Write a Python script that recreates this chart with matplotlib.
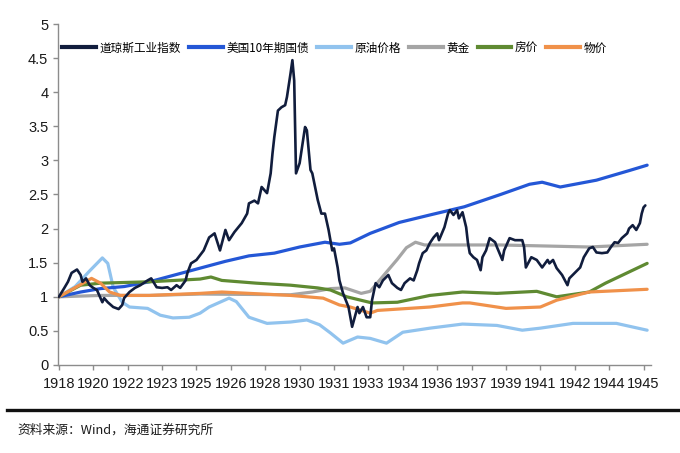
import matplotlib
matplotlib.use("Agg")
import matplotlib.pyplot as plt
from matplotlib.lines import Line2D
from matplotlib.ticker import FuncFormatter

# x 轴为月份序号（类别轴，每 19 个月一个标签）
tick_labels = ["1918", "1920", "1922", "1923", "1925", "1926", "1928", "1930", "1931",
               "1933", "1934", "1936", "1937", "1939", "1941", "1942", "1944", "1945"]

# 道琼斯工业指数（归一化）
djia_m = [0, 3, 5, 7, 10, 12, 13, 15, 17, 19, 21, 24, 25, 27, 30, 33, 35, 36, 39, 42,
          45, 49, 51, 54, 57, 60, 62, 65, 67, 70, 71, 73, 76, 80, 83, 86, 89, 92, 94, 97,
          101, 104, 105, 108, 110, 112, 115, 117, 118, 119, 121, 123, 125, 126, 128, 129,
          130, 131, 133, 136, 137, 139, 140, 143, 145, 147, 149, 151, 152, 154, 155, 157,
          160, 162, 165, 166, 168, 170, 172, 173, 175, 177, 179, 182, 184, 187, 189, 191,
          194, 196, 198, 199, 201, 203, 205, 207, 209, 210, 213, 215, 216, 218, 220, 221,
          223, 225, 226, 227, 229, 231, 233, 234, 236, 238, 241, 242, 245, 246, 249, 252,
          256, 257, 258, 261, 264, 267, 270, 271, 273, 275, 278, 281, 282, 285, 288, 290,
          293, 295, 297, 300, 303, 305, 307, 309, 311, 314, 315, 317, 319, 321, 322, 323, 324]
djia_v = [1.00, 1.13, 1.22, 1.35, 1.40, 1.32, 1.22, 1.27, 1.17, 1.13, 1.10, 0.92, 0.98, 0.92,
          0.85, 0.82, 0.88, 0.98, 1.07, 1.13, 1.17, 1.24, 1.27, 1.14, 1.13, 1.14, 1.10, 1.17,
          1.13, 1.24, 1.35, 1.49, 1.54, 1.68, 1.87, 1.93, 1.68, 1.98, 1.83, 1.95, 2.08, 2.22,
          2.37, 2.41, 2.37, 2.61, 2.52, 2.81, 3.10, 3.34, 3.73, 3.78, 3.81, 3.93, 4.28, 4.47,
          4.17, 2.81, 2.96, 3.49, 3.44, 2.86, 2.81, 2.42, 2.22, 2.22, 1.98, 1.68, 1.71, 1.43,
          1.24, 1.05, 0.85, 0.56, 0.85, 0.76, 0.85, 0.70, 0.70, 0.95, 1.20, 1.14, 1.24, 1.32,
          1.20, 1.13, 1.10, 1.20, 1.27, 1.24, 1.39, 1.49, 1.64, 1.68, 1.79, 1.87, 1.93, 1.83,
          2.02, 2.22, 2.27, 2.20, 2.27, 2.15, 2.24, 2.02, 1.79, 1.64, 1.58, 1.54, 1.39, 1.58,
          1.68, 1.86, 1.80, 1.73, 1.54, 1.68, 1.86, 1.83, 1.83, 1.73, 1.43, 1.58, 1.54, 1.43,
          1.54, 1.49, 1.54, 1.42, 1.32, 1.17, 1.27, 1.35, 1.43, 1.58, 1.71, 1.73, 1.65, 1.64,
          1.65, 1.73, 1.80, 1.79, 1.86, 1.93, 2.00, 2.05, 1.98, 2.08, 2.22, 2.31, 2.34]

# 美国10年期国债
bond_m = [0, 12, 23, 36, 50, 64, 78, 92, 105, 119, 133, 147, 155, 161, 172, 188, 205, 224,
          244, 260, 267, 277, 297, 315, 325]
bond_v = [1.00, 1.07, 1.12, 1.15, 1.22, 1.32, 1.42, 1.52, 1.60, 1.64, 1.73, 1.80, 1.77, 1.79,
          1.93, 2.09, 2.20, 2.32, 2.50, 2.65, 2.68, 2.61, 2.71, 2.85, 2.93]

# 原油价格
oil_m = [0, 9, 17, 24, 27, 30, 35, 39, 49, 56, 63, 72, 78, 83, 94, 98, 105, 115, 128, 137,
         144, 150, 157, 165, 172, 181, 190, 205, 223, 242, 256, 266, 284, 308, 325]
oil_v = [1.00, 1.15, 1.38, 1.57, 1.49, 1.14, 0.92, 0.85, 0.83, 0.73, 0.69, 0.70, 0.76, 0.85,
         0.98, 0.93, 0.70, 0.61, 0.63, 0.66, 0.59, 0.47, 0.32, 0.41, 0.39, 0.32, 0.48, 0.54,
         0.60, 0.58, 0.51, 0.54, 0.61, 0.61, 0.51]

# 黄金
gold_m = [0, 23, 50, 78, 128, 140, 150, 158, 167, 172, 179, 187, 192, 197, 202, 244, 293, 325]
gold_v = [1.00, 1.02, 1.02, 1.04, 1.03, 1.07, 1.12, 1.13, 1.05, 1.08, 1.30, 1.55, 1.72, 1.80,
          1.76, 1.76, 1.73, 1.77]

# 房价
house_m = [0, 12, 23, 50, 78, 84, 90, 109, 128, 143, 150, 159, 173, 187, 205, 223, 242, 264,
           275, 293, 302, 325]
house_v = [1.00, 1.17, 1.20, 1.22, 1.26, 1.29, 1.24, 1.20, 1.17, 1.13, 1.10, 1.00, 0.91, 0.92,
           1.02, 1.07, 1.05, 1.08, 1.00, 1.07, 1.20, 1.49]

# 物价
cpi_m = [0, 18, 23, 28, 34, 50, 78, 90, 128, 146, 155, 161, 172, 176, 205, 223, 227, 242,
         247, 266, 275, 293, 325]
cpi_v = [1.00, 1.27, 1.20, 1.07, 1.02, 1.02, 1.05, 1.07, 1.02, 0.98, 0.88, 0.85, 0.76, 0.80,
         0.85, 0.91, 0.91, 0.85, 0.83, 0.85, 0.95, 1.07, 1.11]

plt.rcParams["font.family"] = ["Liberation Sans Narrow", "Liberation Sans", "DejaVu Sans"]
cjk = ["Noto Sans CJK SC", "DejaVu Sans"]

fig = plt.figure(figsize=(6.8, 4.53), dpi=100)
ax = fig.add_axes([0.0853, 0.1943, 0.8717, 0.7527])

series = [
    (djia_m, djia_v, "道琼斯工业指数", "#111d3d", 1.9, 6),
    (bond_m, bond_v, "美国10年期国债", "#2457d6", 2.3, 3),
    (oil_m, oil_v, "原油价格", "#91c3ee", 2.3, 2),
    (gold_m, gold_v, "黄金", "#a5a5a5", 2.3, 2.5),
    (house_m, house_v, "房价", "#5f8a32", 2.3, 3),
    (cpi_m, cpi_v, "物价", "#f0914a", 2.3, 3.2),
]
handles = []
for xs, ys, name, color, lw, z in series:
    ax.plot(xs, ys, color=color, lw=lw, zorder=z, label=name,
            solid_joinstyle="round", solid_capstyle="round")
    handles.append(Line2D([], [], color=color, lw=3.0))

ax.set_ylim(0, 5)
ax.set_xlim(-0.5, 327)
ax.set_yticks([0, 0.5, 1, 1.5, 2, 2.5, 3, 3.5, 4, 4.5, 5])
ax.yaxis.set_major_formatter(FuncFormatter(lambda v, p: f"{v:g}"))
ax.set_xticks([i * 19 for i in range(len(tick_labels))])
ax.set_xticklabels(tick_labels)

for side in ["top", "right"]:
    ax.spines[side].set_visible(False)
for side in ["left", "bottom"]:
    ax.spines[side].set_color("#8c8c8c")
    ax.spines[side].set_linewidth(1.0)
ax.tick_params(axis="both", direction="out", length=3.5, width=1.0, color="#8c8c8c",
               labelsize=10.5, labelcolor="#1a1a1a")
ax.tick_params(axis="x", pad=5)

fig.legend(handles, [s[2] for s in series], loc="center left",
           bbox_to_anchor=(0.091, 0.894), ncol=6, frameon=False,
           prop={"family": cjk, "size": 8.4}, handlelength=2.9, handletextpad=0.3,
           columnspacing=0.7, borderpad=0, borderaxespad=0)

fig.add_artist(Line2D([0.01, 1.0], [0.095, 0.095], color="#111111", lw=2.4,
                      transform=fig.transFigure))
fig.text(0.026, 0.051, "资料来源：Wind，海通证券研究所", family=cjk, fontsize=9.2,
         color="#1a1a1a", va="center", ha="left")

fig.savefig("out.png", dpi=100)
